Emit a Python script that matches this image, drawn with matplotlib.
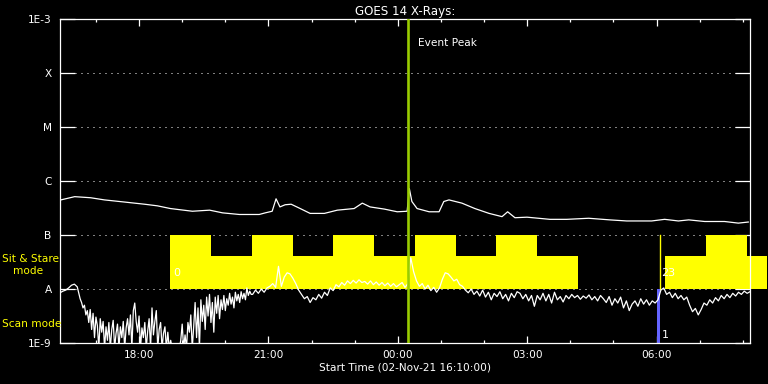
import numpy as np
import matplotlib
matplotlib.use('Agg')
import matplotlib.pyplot as plt

# time axis: hours after the start time 02-Nov-21 16:10
t_start = 16 + 10 / 60.0

# long channel (1-8 A): hours, log10 flux
upper_t = [0.02, 0.34, 0.71, 1.03, 1.50, 1.96, 2.26, 2.56, 3.07, 3.47, 3.77, 4.16,
           4.62, 4.76, 4.92, 5.01, 5.10, 5.22, 5.36, 5.57, 5.80, 6.13, 6.43, 6.82,
           7.01, 7.19, 7.52, 7.82, 8.05, 8.10, 8.16, 8.28, 8.56, 8.79, 8.90, 9.02,
           9.32, 9.62, 9.95, 10.25, 10.38, 10.55, 10.83, 11.36, 11.75, 12.26, 12.75,
           13.14, 13.72, 14.02, 14.34, 14.58, 14.95, 15.41, 15.73, 15.96]
upper_log = [-6.35, -6.29, -6.31, -6.35, -6.39, -6.43, -6.46, -6.51, -6.56, -6.54,
             -6.59, -6.62, -6.62, -6.59, -6.56, -6.33, -6.48, -6.44, -6.43, -6.51,
             -6.60, -6.60, -6.54, -6.51, -6.41, -6.48, -6.52, -6.57, -6.56, -6.14,
             -6.38, -6.51, -6.57, -6.57, -6.38, -6.35, -6.41, -6.51, -6.60, -6.66,
             -6.57, -6.68, -6.67, -6.71, -6.71, -6.69, -6.72, -6.74, -6.74, -6.71,
             -6.74, -6.72, -6.75, -6.75, -6.78, -6.76]

# short channel (0.5-4 A), log10 flux
# 0-24 min every 4 min, 28-266 min every 2 min (noisy part), then every 4 min
lower_minutes = np.concatenate([np.arange(0, 28, 4), np.arange(28, 268, 2),
                                np.arange(268, 964, 4)])
lower_log = [-8.07, -8.04, -8.02, -7.98, -7.93, -7.91, -7.96,
             -8.18, -8.25, -8.35, -8.30, -8.48, -8.40, -8.62, -8.38, -8.75, -8.45,
             -8.90, -8.52, -8.68, -9.10, -8.55, -8.80, -8.60, -9.10, -8.70, -8.95,
             -8.62, -9.10, -8.75, -8.58, -9.10, -8.82, -8.65, -9.10, -8.70, -8.90,
             -8.60, -9.10, -8.72, -8.55, -8.85, -8.48, -9.10, -8.40, -8.26, -8.60,
             -8.80, -8.50, -9.10, -8.72, -8.90, -8.62, -9.10, -8.78, -8.55, -9.10,
             -8.35, -8.85, -8.60, -8.40, -9.10, -8.75, -8.62, -9.10, -8.82, -8.70,
             -9.10, -8.80, -9.10, -8.95, -9.10, -9.10, -9.05, -9.10, -9.10, -9.10,
             -8.95, -8.65, -9.10, -8.85, -9.10, -8.62, -8.80, -8.48, -9.10, -8.70,
             -8.25, -8.90, -8.35, -9.10, -8.20, -8.60, -8.30, -8.75, -8.15, -8.50,
             -8.10, -8.62, -8.25, -8.80, -8.15, -8.45, -8.12, -8.55, -8.20, -8.38,
             -8.12, -8.40, -8.18, -8.30, -8.08, -8.28, -8.15, -8.35, -8.06, -8.22,
             -8.10, -8.25, -8.05, -8.18, -8.08, -8.20, -7.98, -8.12, -8.04, -8.10,
             -8.10, -8.02, -8.08,
             -8.00, -8.06, -7.98, -7.95, -7.90, -7.97, -7.58, -7.95,
             -7.78, -7.70, -7.72, -7.80, -7.90, -8.02, -8.10, -8.18, -8.14, -8.25,
             -8.16, -8.20, -8.10, -8.17, -8.06, -8.12, -7.98, -8.03, -7.92, -7.96,
             -7.88, -7.93, -7.85, -7.90, -7.84, -7.89, -7.83, -7.88, -7.86, -7.91,
             -7.85, -7.92, -7.87, -7.93, -7.88, -7.94, -7.89, -7.95, -7.90, -7.96,
             -7.92, -7.88, -7.97,
             -7.90, -7.42, -7.68, -7.85, -7.95, -7.90, -8.00, -7.93, -8.03, -7.97,
             -8.06, -7.98, -7.82, -7.70, -7.72, -7.78, -7.85, -7.82, -7.92, -7.95,
             -8.02, -8.07, -8.00, -8.10, -8.04, -8.13, -8.02, -8.15, -8.06, -8.20,
             -8.08, -8.14, -8.05, -8.18, -8.10, -8.22, -8.08, -8.16, -8.05,
             -8.08, -8.18, -8.10, -8.22, -8.12, -8.32, -8.12, -8.20, -8.08, -8.22,
             -8.10, -8.26, -8.06, -8.20, -8.14, -8.24, -8.12, -8.18, -8.10, -8.16,
             -8.12, -8.19, -8.13, -8.17, -8.11, -8.20, -8.14, -8.22, -8.12, -8.18,
             -8.25, -8.14, -8.30, -8.18, -8.26, -8.15, -8.35, -8.22, -8.40, -8.28,
             -8.22, -8.32, -8.18, -8.28, -8.20, -8.30, -8.22, -8.26, -8.20, -8.02,
             -7.98, -8.10, -8.06, -8.16, -8.08, -8.18, -8.12, -8.20, -8.15, -8.30,
             -8.42, -8.36, -8.48, -8.38, -8.26, -8.30, -8.20, -8.26, -8.16, -8.22,
             -8.12, -8.18, -8.10, -8.16, -8.08, -8.13, -8.06, -8.10, -8.04, -8.08,
             -8.05]
lower_t = lower_minutes[:len(lower_log)] / 60.0

# sit & stare periods (hours after start), tall = whole B..A band
tall_blocks = [(2.56, 3.51), (4.46, 5.41), (6.34, 7.29), (8.24, 9.19),
               (10.12, 11.06), (14.97, 15.92)]
short_blocks = [(3.51, 4.46), (5.41, 6.34), (7.29, 8.24), (9.19, 10.12),
                (11.06, 12.01), (14.02, 14.97), (15.92, 16.40)]
short_top = 10 ** -7.39
stare_line = 13.91
scan_bar = (13.85, 13.92)
event_peak = 8.07

ylabels = ['1E-9', 'A', 'B', 'C', 'M', 'X', '1E-3']
major_hours = [18, 21, 24, 27, 30]
major_labels = ['18:00', '21:00', '00:00', '03:00', '06:00']

W, H = 768, 384
fig = plt.figure(figsize=(W / 100, H / 100), dpi=100, facecolor='black')
ax = fig.add_axes([60 / W, 41 / H, 690 / W, 324 / H], facecolor='black')
ax.set_yscale('log')
ax.set_xlim(0, 16)
ax.set_ylim(1e-9, 1e-3)

fs = 7.6
# dotted decade lines
for k in range(1, 6):
    ax.plot([0.35, 15.7], [10.0 ** (-9 + k)] * 2, color='white', lw=0.72,
            ls=(0, (1, 5)), zorder=1)

for a, b in tall_blocks:
    ax.fill_between([a, b], 1e-8, 1e-7, color='#ffff00', lw=0, zorder=2, clip_on=False)
for a, b in short_blocks:
    ax.fill_between([a, b], 1e-8, short_top, color='#ffff00', lw=0, zorder=2, clip_on=False)
ax.plot([stare_line, stare_line], [1e-8, 1e-7], color='#ffff00', lw=1, zorder=2)
ax.fill_between(list(scan_bar), 1e-9, 1e-8, color='#6464ff', lw=0, zorder=2)

ax.plot(upper_t, 10 ** np.array(upper_log), color='white', lw=0.9, zorder=4)
ax.plot(lower_t, 10 ** np.array(lower_log), color='white', lw=0.9, zorder=4)

ax.axvline(event_peak, color='#99cc00', lw=1.9, zorder=5)
ax.text(event_peak + 0.23, 10 ** -3.45, 'Event Peak', color='white', fontsize=fs,
        va='center', ha='left')

ax.text(2.62, 10 ** -7.7, '0', color='white', fontsize=8, va='center', ha='left', zorder=6)
ax.text(13.95, 10 ** -7.7, '23', color='white', fontsize=8, va='center', ha='left', zorder=6)
ax.text(13.95, 10 ** -8.85, '1', color='white', fontsize=8, va='center', ha='left', zorder=6)

for s in ax.spines.values():
    s.set_color('white')
    s.set_linewidth(0.9)

ax.set_yticks([10.0 ** e for e in range(-9, -2)])
ax.set_yticklabels(ylabels)
ax.yaxis.set_minor_locator(matplotlib.ticker.NullLocator())
ax.tick_params(axis='y', which='major', direction='in', length=11, width=0.9,
               colors='white', labelsize=fs, right=True, pad=6)

ax.set_xticks([h - t_start for h in major_hours])
ax.set_xticklabels(major_labels)
ax.set_xticks([h - t_start for h in range(17, 33)], minor=True)
ax.tick_params(axis='x', which='major', direction='in', length=5, width=0.9,
               colors='white', labelsize=fs, top=True, pad=5)
ax.tick_params(axis='x', which='minor', direction='in', length=2.5, width=0.9,
               colors='white', top=True)

ax.set_title('GOES 14 X-Rays:', color='white', fontsize=8.6, pad=3)
ax.set_xlabel('Start Time (02-Nov-21 16:10:00)', color='white', fontsize=fs, labelpad=2)

fig.text(2 / W, 1 - 259 / H, 'Sit & Stare', color='#ffff00', fontsize=fs, va='center', ha='left')
fig.text(13 / W, 1 - 271 / H, 'mode', color='#ffff00', fontsize=fs, va='center', ha='left')
fig.text(2 / W, 1 - 324 / H, 'Scan mode', color='#ffff00', fontsize=fs, va='center', ha='left')

fig.savefig('out.png', dpi=100, facecolor='black')
